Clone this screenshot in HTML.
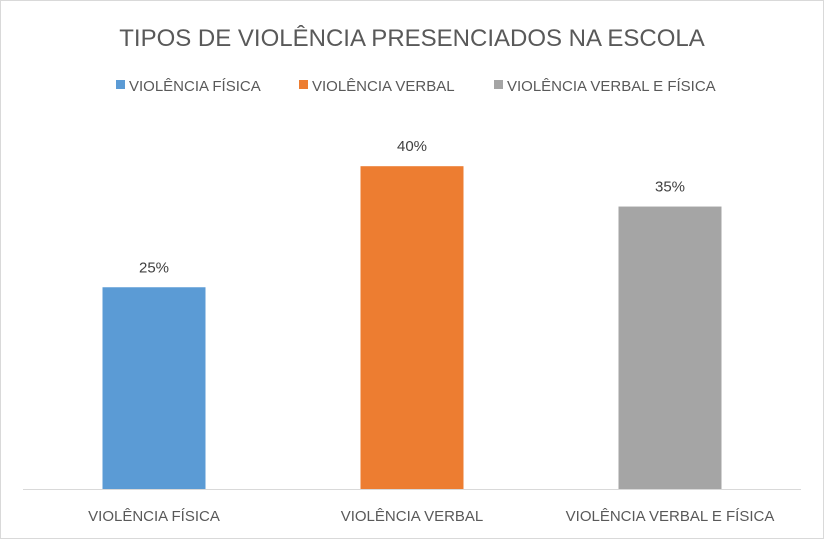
<!DOCTYPE html>
<html><head><meta charset="utf-8"><style>
body{margin:0;background:#fff}
svg{display:block;font-family:"Liberation Sans",sans-serif}
</style></head><body>
<svg id="chart" width="824" height="539" viewBox="0 0 824 539">
<rect x="0.5" y="0.5" width="823" height="538" fill="#fff" stroke="#d9d9d9"/>
<text x="412" y="46" text-anchor="middle" font-size="24" fill="#595959">TIPOS DE VIOLÊNCIA PRESENCIADOS NA ESCOLA</text>
<g id="legend"></g>
<g id="bars"></g>
<line x1="23" y1="489.5" x2="801" y2="489.5" stroke="#d9d9d9"/>
</svg>
<script>
const categories=["VIOLÊNCIA FÍSICA","VIOLÊNCIA VERBAL","VIOLÊNCIA VERBAL E FÍSICA"];
const values=[25,40,35];
const valueLabels=["25%","40%","35%"];
const colors=["#5b9bd5","#ed7d31","#a5a5a5"];
const NS="http://www.w3.org/2000/svg";
const x0=25,slot=258,barW=103,baseY=489,pxPer=8.07;
const xPos=i=>x0+slot*i+slot/2;
const yPos=v=>baseY-v*pxPer;
const g=document.getElementById('bars');
categories.forEach((c,i)=>{
 const r=document.createElementNS(NS,'rect');
 r.setAttribute('x',xPos(i)-barW/2);r.setAttribute('y',yPos(values[i]));
 r.setAttribute('width',barW);r.setAttribute('height',baseY-yPos(values[i]));
 r.setAttribute('fill',colors[i]);
 
 
 g.appendChild(r);
 const t=document.createElementNS(NS,'text');
 t.setAttribute('x',xPos(i));t.setAttribute('y',yPos(values[i])-15);
 t.setAttribute('text-anchor','middle');t.setAttribute('font-size','15');t.setAttribute('fill','#404040');
 t.textContent=valueLabels[i];
 
 
 g.appendChild(t);
 const l=document.createElementNS(NS,'text');
 l.setAttribute('x',xPos(i));l.setAttribute('y',521);
 l.setAttribute('text-anchor','middle');l.setAttribute('font-size','15');l.setAttribute('fill','#595959');
 l.textContent=c;
 
 
 g.appendChild(l);
});
const lg=document.getElementById('legend');
const legX=[116,299,494];
categories.forEach((c,i)=>{
 const s=document.createElementNS(NS,'rect');
 s.setAttribute('x',legX[i]);s.setAttribute('y',80);s.setAttribute('width',9);s.setAttribute('height',9);
 s.setAttribute('fill',colors[i]);
 
 
 lg.appendChild(s);
 const t=document.createElementNS(NS,'text');
 t.setAttribute('x',legX[i]+13);t.setAttribute('y',91);t.setAttribute('font-size','15');t.setAttribute('fill','#595959');
 t.textContent=c;
 
 
 lg.appendChild(t);
});
</script>
</body></html>
